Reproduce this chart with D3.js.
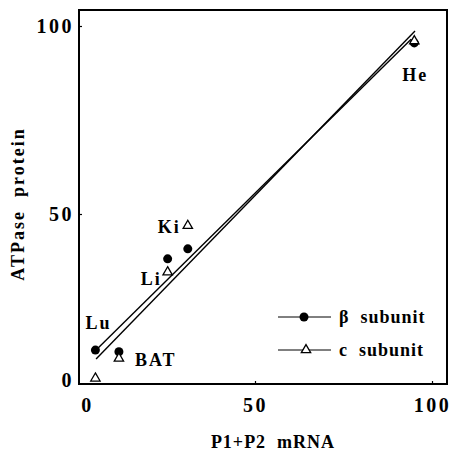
<!DOCTYPE html>
<html>
<head>
<meta charset="utf-8">
<script src="https://cdn.jsdelivr.net/npm/d3@7"></script>
<style>
  body { margin: 0; background: #fff; }
  text { font-family: "Liberation Serif", "DejaVu Serif", serif; font-weight: bold; fill: #000; white-space: pre; }
</style>
</head>
<body>
<div id="chart-area"></div>
<script>
// data
let tissues = ["Lu", "BAT", "Li", "Ki", "He"]
let mrna = [2.5, 9.5, 24, 30, 95]
let betaProtein = [9, 8.5, 36.5, 39.5, 95.5]
let cProtein = [0.5, 6.5, 32.5, 46.5, 96]
let tickValues = [0, 50, 100]
// regression lines [x0, y0, x1, y1]
let betaFit = [2.1, 8.4, 94.1, 96.5]
let cFit = [2.7, 6.3, 95.2, 98.7]

let margin = { top: 10, right: 5, bottom: 75, left: 79 }
let canvasWidth = 452 - margin.left - margin.right
let canvasHeight = 459 - margin.top - margin.bottom

let svg = d3.select("#chart-area").append("svg")
  .attr("width", 452)
  .attr("height", 459)

let graphGroup = svg.append("g")
  .attr("transform", "translate(" + margin.left + ", " + margin.top + ")")

// the printed axes are not quite linear, so use piecewise scales
let x = d3.scaleLinear()
  .domain([0, 50, 100])
  .range([8, 176, 353])

let y = d3.scaleLinear()
  .domain([0, 50, 100])
  .range([370, 204, 16])

// frame
graphGroup.append("rect")
  .attr("width", canvasWidth)
  .attr("height", canvasHeight)
  .attr("fill", "none")
  .attr("stroke", "#000")
  .attr("stroke-width", 2)

let xAxis = graphGroup.append("g")
  .attr("transform", "translate(0, " + canvasHeight + ")")
  .call(d3.axisBottom(x).tickValues(tickValues).tickSizeInner(-3).tickSizeOuter(0).tickPadding(14))
let yAxis = graphGroup.append("g")
  .call(d3.axisLeft(y).tickValues(tickValues).tickSizeInner(-3).tickSizeOuter(0).tickPadding(5))

;[xAxis, yAxis].forEach(ax => {
  ax.select(".domain").remove()
  ax.selectAll("line").attr("stroke-width", 1.2)
  ax.selectAll(".tick").filter(d => d === 0).select("line").remove()
  ax.selectAll("text")
    .attr("font-family", null)
    .style("font-size", "20px")
    .style("letter-spacing", "2.5px")
})

// fitted lines
let line = d3.line()
  .x(d => x(d[0]))
  .y(d => y(d[1]))

;[betaFit, cFit].forEach(f => {
  graphGroup.append("path")
    .attr("d", line([[f[0], f[1]], [f[2], f[3]]]))
    .attr("fill", "none")
    .attr("stroke", "#000")
    .attr("stroke-width", 1.4)
})

let triangle = d3.symbol().type(d3.symbolTriangle).size(38)

// beta subunit: filled circles
graphGroup.selectAll(".beta")
  .data(tissues)
  .enter()
  .append("circle")
    .attr("class", "beta")
    .attr("cx", (t, i) => x(mrna[i]))
    .attr("cy", (t, i) => y(betaProtein[i]))
    .attr("r", 4.5)
    .attr("fill", "#000")

// c subunit: open triangles
graphGroup.selectAll(".csub")
  .data(tissues)
  .enter()
  .append("path")
    .attr("class", "csub")
    .attr("d", triangle)
    .attr("transform", (t, i) => "translate(" + x(mrna[i]) + ", " + y(cProtein[i]) + ")")
    .attr("fill", "#fff")
    .attr("stroke", "#000")
    .attr("stroke-width", 1.3)

// tissue labels
let labelOffset = {
  Lu: [-10, -21],
  BAT: [16, 14],
  Li: [-27, 13],
  Ki: [-30, 7],
  He: [-12, 38]
}
graphGroup.selectAll(".tissue")
  .data(tissues)
  .enter()
  .append("text")
    .attr("class", "tissue")
    .attr("x", (t, i) => x(mrna[i]) + labelOffset[t][0])
    .attr("y", (t, i) => y(t === "Li" || t === "Ki" ? cProtein[i] : betaProtein[i]) + labelOffset[t][1])
    .style("font-size", "18px")
    .style("letter-spacing", "2px")
    .text(t => t)

// legend
let legendItems = ["β  subunit", "c  subunit"]
let legend = graphGroup.selectAll(".legend")
  .data(legendItems)
  .enter()
  .append("g")
    .attr("transform", (d, i) => "translate(199, " + (307 + i * 33) + ")")

legend.append("line")
  .attr("x1", 0).attr("x2", 53)
  .attr("stroke", "#000")
  .attr("stroke-width", 1)
legend.filter((d, i) => i === 0).append("circle")
  .attr("cx", 26).attr("r", 4.5).attr("fill", "#000")
legend.filter((d, i) => i === 1).append("path")
  .attr("d", triangle)
  .attr("transform", "translate(28, 0)")
  .attr("fill", "#fff").attr("stroke", "#000").attr("stroke-width", 1.3)
legend.append("text")
  .attr("x", 61)
  .attr("dy", "0.35em")
  .style("font-size", "18px")
  .style("letter-spacing", "1px")
  .text(d => d)

// axis titles
svg.append("text")
  .attr("x", 273)
  .attr("y", 448)
  .attr("text-anchor", "middle")
  .style("font-size", "18px")
  .style("letter-spacing", "1px")
  .text("P1+P2  mRNA")

svg.append("text")
  .attr("transform", "translate(24, 204) rotate(-90)")
  .attr("text-anchor", "middle")
  .style("font-size", "18px")
  .style("letter-spacing", "2px")
  .text("ATPase  protein")
</script>
</body>
</html>
